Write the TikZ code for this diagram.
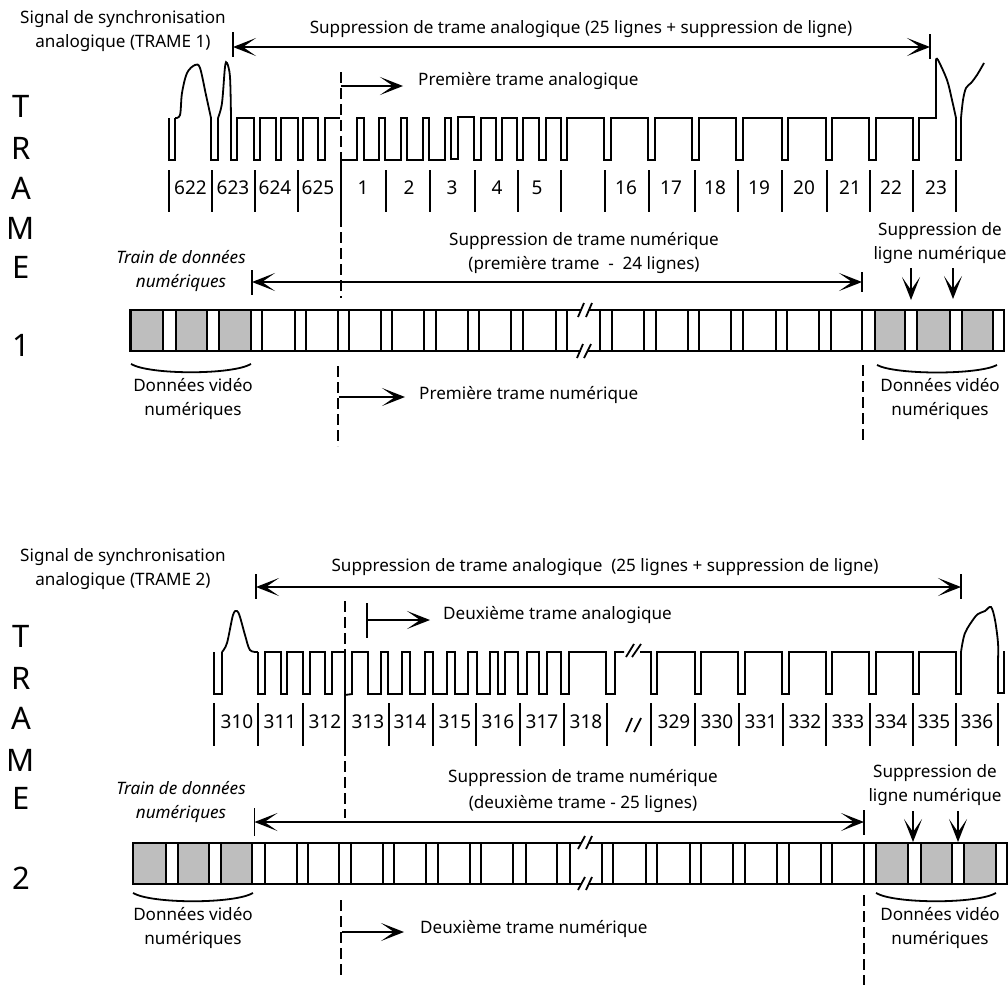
\documentclass[tikz,border=0pt]{standalone}
\usepackage{fontspec}
\setmainfont{Noto Sans}
\usetikzlibrary{arrows.meta}
\definecolor{boxgray}{RGB}{190,190,190}
\tikzset{
  sigline/.style={black, line width=1.8pt},
  tickline/.style={black, line width=1.7pt},
  dashline/.style={black, line width=1.7pt, dash pattern=on 11pt off 5pt},
  dimline/.style={black, line width=1.6pt, -{Stealth[length=23pt,width=18pt,inset=13pt]}},
  barline/.style={black, line width=1.8pt},
  boxw/.style={draw=black, line width=1.8pt, fill=white},
  boxg/.style={draw=black, line width=1.8pt, fill=boxgray},
  txt/.style={font=\fontsize{17.1}{24}\selectfont, align=center, inner sep=0pt},
  numlab/.style={font=\fontsize{19}{21}\selectfont, inner sep=0pt},
  bigletter/.style={font=\fontsize{31}{34}\selectfont, inner sep=0pt}
}
\begin{document}
\begin{tikzpicture}[x=1pt,y=-1pt]
\useasboundingbox (0,0) rectangle (1008,985);
\node[bigletter] (t1) at (21,106) {T};
\node[bigletter] (r1) at (21,148) {R};
\node[bigletter] (a1) at (21,188) {A};
\node[bigletter] (m1) at (21,228) {M};
\node[bigletter] (e1) at (21,267) {E};
\node[bigletter] (n1) at (21,345) {1};
\node[bigletter] (t2) at (21,636) {T};
\node[bigletter] (r2) at (21,678) {R};
\node[bigletter] (a2) at (21,718) {A};
\node[bigletter] (m2) at (21,760) {M};
\node[bigletter] (e2) at (21,798) {E};
\node[bigletter] (n2) at (21,878) {2};

\node[txt] (syncone) at (123,31) {Signal de synchronisation\\analogique (TRAME 1)};
\node[txt] (anaone) at (581,29) {Suppression de trame analogique (25 lignes + suppression de ligne)};
\node[txt, anchor=west] (firstana) at (418,81) {Première trame analogique};
\node[txt] (numone) at (584,253) {Suppression de trame numérique\\(première trame~~-~~24 lignes)};
\node[txt] (trainone) at (181,271) {\itshape Train de données\\\itshape numériques};
\node[txt] (lineone) at (940,243) {Suppression de\\ligne numérique};
\node[txt] (vidone) at (193,399) {Données vidéo\\numériques};
\node[txt] (vidtwo) at (940,399) {Données vidéo\\numériques};
\node[txt, anchor=west] (firstnum) at (419,395) {Première trame numérique};

\node[txt] (synctwo) at (123,569) {Signal de synchronisation\\analogique (TRAME 2)};
\node[txt] (anatwo) at (605,567) {Suppression de trame analogique~~(25 lignes + suppression de ligne)};
\node[txt, anchor=west] (secondana) at (443,615) {Deuxième trame analogique};
\node[txt] (numtwo) at (583,791) {Suppression de trame numérique\\[2pt](deuxième trame - 25 lignes)};
\node[txt] (traintwo) at (181,802) {\itshape Train de données\\\itshape numériques};
\node[txt] (linetwo) at (935,785) {Suppression de\\ligne numérique};
\node[txt] (vidthree) at (193,928) {Données vidéo\\numériques};
\node[txt] (vidfour) at (940,928) {Données vidéo\\numériques};
\node[txt, anchor=west] (secondnum) at (420,929) {Deuxième trame numérique};

\coordinate (aa1) at (233,47);
\coordinate (ab1) at (930,47);
\draw[dimline] (581,47) -- (aa1);
\draw[dimline] (581,47) -- (ab1);
\draw[tickline] (233,32) -- (233,57);
\draw[tickline] (930,34) -- (930,59);
\coordinate (fa1) at (341,86);
\coordinate (fb1) at (403,86);
\draw[dimline] (fa1) -- (fb1);
\coordinate (da1) at (252,282);
\coordinate (db1) at (862,282);
\draw[dimline] (560,282) -- (da1);
\draw[dimline] (560,282) -- (db1);
\draw[tickline] (252,270) -- (252,295);
\draw[tickline] (862,272) -- (862,292);
\coordinate (ga1) at (339,397);
\coordinate (gb1) at (405,397);
\draw[dimline] (ga1) -- (gb1);
\draw[dimline] (911,268) -- (911,300);
\draw[dimline] (953,268) -- (953,299);
\draw[dashline] (341,72) -- (341,298);
\draw[dashline] (338,366) -- (338,446);
\draw[dashline] (863,365) -- (863,445);

\coordinate (aa2) at (256,587);
\coordinate (ab2) at (961,587);
\draw[dimline] (605,587) -- (aa2);
\draw[dimline] (605,587) -- (ab2);
\draw[tickline] (256,574) -- (256,599);
\draw[tickline] (961,574) -- (961,599);
\coordinate (fa2) at (367,620);
\coordinate (fb2) at (430,620);
\draw[dimline] (fa2) -- (fb2);
\draw[tickline] (367,603) -- (367,638);
\coordinate (da2) at (254.5,822);
\coordinate (db2) at (864,822);
\draw[dimline] (560,822) -- (da2);
\draw[dimline] (560,822) -- (db2);
\draw[tickline] (254.5,808) -- (254.5,836);
\draw[tickline] (864,810) -- (864,835);
\coordinate (ga2) at (342,932);
\coordinate (gb2) at (404,932);
\draw[dimline] (ga2) -- (gb2);
\draw[dimline] (913,811) -- (913,842);
\draw[dimline] (958,811) -- (958,842);
\draw[dashline] (345,601) -- (345,818);
\draw[dashline] (341,900) -- (341,980);
\draw[dashline] (864,895) -- (864,985);

\draw[sigline] (169,118) -- (169,160) -- (175,160) -- (175,118);
\draw[sigline] plot[smooth, tension=0.55] coordinates {(175,118) (180,115) (182,93) (187,73) (195,65) (200,68) (206,95) (211,118)};
\draw[sigline] (211,118) -- (211,160) -- (218,160) -- (218,118);
\draw[sigline] plot[smooth, tension=0.55] coordinates {(218,118) (222,103) (225,67) (227,63) (230,77) (231,118)};
\draw[sigline] (231,118) -- (231,160) -- (237,160) -- (237,118) -- (254,118) -- (254,160) -- (260,160) -- (260,118) -- (276,118) -- (276,160) -- (281,160) -- (281,118) -- (298,118) -- (298,160) -- (303,160) -- (303,118) -- (318,118) -- (318,160) -- (325,160) -- (325,118) -- (340,118);
\draw[sigline] (342,160) -- (357,160) -- (357,118) -- (364,118) -- (364,160) -- (379,160) -- (379,118) -- (385,118) -- (385,160) -- (401,160) -- (401,118) -- (407,118) -- (407,160) -- (423,160) -- (423,118) -- (429,118) -- (429,160) -- (445,160) -- (445,118) -- (451,118) -- (451,159) -- (458,159) -- (458,117) -- (474,117) -- (474,160) -- (481,160) -- (481,118) -- (496,118) -- (496,160) -- (502,160) -- (502,118) -- (517,118) -- (517,160) -- (523,160) -- (523,118) -- (539,118) -- (539,160) -- (546,160) -- (546,118) -- (561,118) -- (561,160) -- (567,160) -- (567,118) -- (604,118) -- (604,160) -- (611,160) -- (611,118) -- (648,118) -- (648,160) -- (655,160) -- (655,118) -- (692,118) -- (692,160) -- (699,160) -- (699,118) -- (736,118) -- (736,160) -- (743,160) -- (743,118) -- (782,118) -- (782,160) -- (788,160) -- (788,118) -- (826,118) -- (826,160) -- (832,160) -- (832,118) -- (869,118) -- (869,160) -- (876,160) -- (876,118) -- (913,118) -- (913,160) -- (919,160) -- (919,118) -- (936,118) -- (936,60);
\draw[sigline] plot[smooth, tension=0.55] coordinates {(936,60) (938,60) (947,80) (952,100) (956,118)};
\draw[sigline] (956,118) -- (956,160) -- (961,160) -- (961,118);
\draw[sigline] plot[smooth, tension=0.55] coordinates {(961,118) (963,100) (966,88) (971,83) (977,75) (984,63)};

\draw[sigline] (214,652) -- (214,694) -- (222,694) -- (222,652);
\draw[sigline] plot[smooth, tension=0.55] coordinates {(222,652) (227,643) (233,615) (237,611) (240,617) (245,635) (250,650) (258,652)};
\draw[sigline] (258,652) -- (258,694) -- (265,694) -- (265,652) -- (281,652) -- (281,694) -- (287,694) -- (287,652) -- (303,652) -- (303,694) -- (310,694) -- (310,652) -- (325,652) -- (325,694) -- (332,694) -- (332,652) -- (345,652) -- (345,695) -- (352,694) -- (352,652) -- (368,652) -- (368,694) -- (381,694) -- (381,652) -- (388,652) -- (388,694) -- (402,694) -- (402,652) -- (410,652) -- (410,694) -- (425,694) -- (425,652) -- (433,652) -- (433,694) -- (447,694) -- (447,652) -- (455,652) -- (455,694) -- (468,694) -- (468,652) -- (477,652) -- (477,694) -- (490,694) -- (490,652) -- (498,652) -- (498,694) -- (505,694) -- (505,652) -- (518,652) -- (518,694) -- (527,694) -- (527,652) -- (539,652) -- (539,694) -- (547,694) -- (547,652) -- (561,652) -- (561,694) -- (569,694) -- (569,652) -- (606,652) -- (606,694) -- (615,694) -- (615,652) -- (624,652);
\draw[sigline] (640,652) -- (651,652) -- (651,694) -- (657,694) -- (657,652) -- (695,652) -- (695,694) -- (701,694) -- (701,652) -- (738,652) -- (738,694) -- (745,694) -- (745,652) -- (782,652) -- (782,694) -- (789,694) -- (789,652) -- (826,652) -- (826,694) -- (832,694) -- (832,652) -- (869,652) -- (869,694) -- (876,694) -- (876,652) -- (913,652) -- (913,694) -- (919,694) -- (919,652) -- (956,652) -- (956,694) -- (961,694) -- (961,652);
\draw[sigline] plot[smooth, tension=0.55] coordinates {(961,652) (965,633) (975,617) (980,613) (985,611) (991,607) (995,620) (998,643) (998,660)};
\draw[sigline] (998,660) -- (998,693) -- (1004,693) -- (1004,651);
\draw[sigline] (626,657) -- (634,644);
\draw[sigline] (632,657) -- (641,644);
\draw[sigline] (626,732) -- (632,718);
\draw[sigline] (634,732) -- (641,718);

\draw[tickline] (169,170) -- (169,212);
\node[numlab] (l622) at (190.5,188) {622};
\draw[tickline] (212,170) -- (212,212);
\node[numlab] (l623) at (233,188) {623};
\draw[tickline] (255,170) -- (255,212);
\node[numlab] (l624) at (275,188) {624};
\draw[tickline] (298,170) -- (298,212);
\node[numlab] (l625) at (318,188) {625};
\draw[tickline] (341,160) -- (341,220);
\node[numlab] (l1) at (363,188) {1};
\draw[tickline] (386,170) -- (386,212);
\node[numlab] (l2) at (409,188) {2};
\draw[tickline] (430,170) -- (430,212);
\node[numlab] (l3) at (452,188) {3};
\draw[tickline] (475,170) -- (475,212);
\node[numlab] (l4) at (497,188) {4};
\draw[tickline] (518,170) -- (518,212);
\node[numlab] (l5) at (537,188) {5};
\draw[tickline] (561,170) -- (561,212);
\draw[tickline] (605,170) -- (605,212);
\node[numlab] (l16) at (626,188) {16};
\draw[tickline] (649,170) -- (649,212);
\node[numlab] (l17) at (671,188) {17};
\draw[tickline] (695,170) -- (695,212);
\node[numlab] (l18) at (715,188) {18};
\draw[tickline] (738,170) -- (738,212);
\node[numlab] (l19) at (759,188) {19};
\draw[tickline] (782,170) -- (782,212);
\node[numlab] (l20) at (804,188) {20};
\draw[tickline] (827,170) -- (827,212);
\node[numlab] (l21) at (850,188) {21};
\draw[tickline] (870,170) -- (870,212);
\node[numlab] (l22) at (891,188) {22};
\draw[tickline] (913,170) -- (913,212);
\node[numlab] (l23) at (936,188) {23};
\draw[tickline] (956,170) -- (956,212);

\draw[tickline] (214,703) -- (214,746);
\node[numlab] (l310) at (237,722) {310};
\draw[tickline] (258,703) -- (258,746);
\node[numlab] (l311) at (280,722) {311};
\draw[tickline] (303,703) -- (303,746);
\node[numlab] (l312) at (325,722) {312};
\draw[tickline] (345,695) -- (345,754);
\node[numlab] (l313) at (368,722) {313};
\draw[tickline] (389,703) -- (389,746);
\node[numlab] (l314) at (410,722) {314};
\draw[tickline] (433,703) -- (433,746);
\node[numlab] (l315) at (455,722) {315};
\draw[tickline] (476,703) -- (476,746);
\node[numlab] (l316) at (498,722) {316};
\draw[tickline] (520,703) -- (520,746);
\node[numlab] (l317) at (542,722) {317};
\draw[tickline] (564,703) -- (564,746);
\node[numlab] (l318) at (586,722) {318};
\draw[tickline] (607,703) -- (607,746);
\draw[tickline] (651,703) -- (651,746);
\node[numlab] (l329) at (674,722) {329};
\draw[tickline] (695,703) -- (695,746);
\node[numlab] (l330) at (717,722) {330};
\draw[tickline] (739,703) -- (739,746);
\node[numlab] (l331) at (761,722) {331};
\draw[tickline] (783,703) -- (783,746);
\node[numlab] (l332) at (805,722) {332};
\draw[tickline] (826,703) -- (826,746);
\node[numlab] (l333) at (848,722) {333};
\draw[tickline] (870,703) -- (870,746);
\node[numlab] (l334) at (891,722) {334};
\draw[tickline] (913,703) -- (913,746);
\node[numlab] (l335) at (934,722) {335};
\draw[tickline] (956,703) -- (956,746);
\node[numlab] (l336) at (977,722) {336};
\draw[tickline] (998,703) -- (998,746);

\draw[barline] (581,310) -- (130,310) -- (130,351) -- (581,351);
\draw[barline] (589,310) -- (1004,310) -- (1004,351) -- (587,351);
\draw[boxg] (131,310) rectangle (163,351);
\draw[boxg] (176,310) rectangle (207,351);
\draw[boxg] (219,310) rectangle (251,351);
\draw[boxw] (262,310) rectangle (295,351);
\draw[boxw] (306,310) rectangle (338,351);
\draw[boxw] (349,310) rectangle (381,351);
\draw[boxw] (392,310) rectangle (424,351);
\draw[boxw] (436,310) rectangle (468,351);
\draw[boxw] (479,310) rectangle (511,351);
\draw[boxw] (523,310) rectangle (556,351);
\draw[barline] (567,310) -- (567,351);
\draw[barline] (600,310) -- (600,351);
\draw[boxw] (612,310) rectangle (644,351);
\draw[boxw] (656,310) rectangle (688,351);
\draw[boxw] (699,310) rectangle (731,351);
\draw[boxw] (743,310) rectangle (776,351);
\draw[boxw] (787,310) rectangle (819,351);
\draw[boxw] (831,310) rectangle (862,351);
\draw[boxg] (875,310) rectangle (905,351);
\draw[boxg] (917,310) rectangle (950,351);
\draw[boxg] (962,310) rectangle (993,351);
\draw[barline] (578,317) -- (584,303);
\draw[barline] (586,317) -- (592,303);
\draw[barline] (577,358) -- (583,344);
\draw[barline] (584,358) -- (591,344);
\draw[barline] (131,364) .. controls (150,375) and (232,375) .. (251,364);
\draw[barline] (877,365) .. controls (896,375) and (978,375) .. (997,365);

\draw[barline] (581,843) -- (133,843) -- (133,884) -- (581,884);
\draw[barline] (589,843) -- (1007,843) -- (1007,884) -- (589,884);
\draw[boxg] (133,843) rectangle (166,884);
\draw[boxg] (178,843) rectangle (209,884);
\draw[boxg] (221,843) rectangle (252,884);
\draw[boxw] (265,843) rectangle (297,884);
\draw[boxw] (308,843) rectangle (339,884);
\draw[boxw] (351,843) rectangle (383,884);
\draw[boxw] (394,843) rectangle (426,884);
\draw[boxw] (438,843) rectangle (470,884);
\draw[boxw] (481,843) rectangle (513,884);
\draw[boxw] (526,843) rectangle (557,884);
\draw[barline] (570,843) -- (570,884);
\draw[barline] (602,843) -- (602,884);
\draw[boxw] (613,843) rectangle (646,884);
\draw[boxw] (657,843) rectangle (690,884);
\draw[boxw] (701,843) rectangle (733,884);
\draw[boxw] (745,843) rectangle (777,884);
\draw[boxw] (789,843) rectangle (821,884);
\draw[boxw] (832,843) rectangle (864,884);
\draw[boxg] (876,843) rectangle (908,884);
\draw[boxg] (921,843) rectangle (952,884);
\draw[boxg] (964,843) rectangle (996,884);
\draw[barline] (578,849) -- (585,836);
\draw[barline] (586,849) -- (592,836);
\draw[barline] (578,890) -- (585,877);
\draw[barline] (586,890) -- (592,877);
\draw[barline] (133,893) .. controls (152,904) and (234,904) .. (253,893);
\draw[barline] (876,893) .. controls (895,904) and (977,904) .. (996,893);
\end{tikzpicture}
\end{document}
